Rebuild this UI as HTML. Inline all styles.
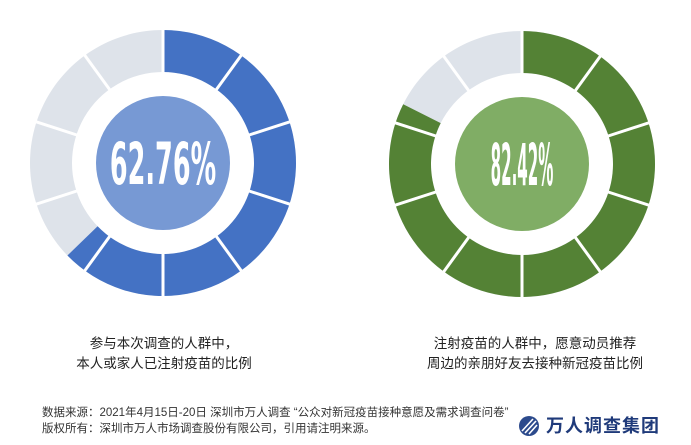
<!DOCTYPE html>
<html><head><meta charset="utf-8"><style>
body{margin:0;width:691px;height:445px;background:#fff;overflow:hidden;position:relative;font-family:"Liberation Sans","Noto Sans CJK SC",sans-serif}
.lbl{position:absolute;font-size:13.5px;color:#222;text-align:center;line-height:20px;white-space:nowrap}
.ft{position:absolute;left:42px;font-size:11.5px;color:#333;line-height:16px;white-space:nowrap}
</style></head><body>
<svg id="chart" width="691" height="445" style="position:absolute;left:0;top:0"></svg>
<div class="lbl" style="left:34px;top:334px;width:260px">参与本次调查的人群中，<br>本人或家人已注射疫苗的比例</div>
<div class="lbl" style="left:400px;top:334px;width:270px">注射疫苗的人群中，愿意动员推荐<br>周边的亲朋好友去接种新冠疫苗比例</div>
<div class="ft" style="top:405px">数据来源：2021年4月15日-20日 深圳市万人调查 “公众对新冠疫苗接种意愿及需求调查问卷”<br>版权所有：深圳市万人市场调查股份有限公司，引用请注明来源。</div>
<div style="position:absolute;left:518px;top:414px;width:160px;height:24px">
<svg width="22" height="22" style="position:absolute;left:0;top:1px"><circle cx="11" cy="11" r="10" fill="#2c4a8c"/><path d="M4 16 L15 4 M7 18 L18 6 M11 19 L19 10" stroke="#fff" stroke-width="1.6"/></svg>
<span style="position:absolute;left:28px;top:0;font-size:18px;font-weight:bold;color:#1f3a7a;letter-spacing:1px;line-height:24px">万人调查集团</span></div>
<script>
const charts=["left","right"];
const values=[62.76,82.42];
const valueLabels=["62.76%","82.42%"];
const segCount=10;
const cx=[163,522], cy=[163,164];
const fill=["#4472c4","#548235"], inner=["#7799d4","#80ad65"], bg="#dee3ea";
const labelScale=[0.44,0.26];
const R=133, r=91, rc=67;
const svg=document.getElementById('chart');
const NS="http://www.w3.org/2000/svg";
function pt(x,y,rad,deg){const a=(deg-90)*Math.PI/180;return [x+rad*Math.cos(a),y+rad*Math.sin(a)];}
function arc(x,y,a0,a1){const p1=pt(x,y,R,a0),p2=pt(x,y,R,a1),p3=pt(x,y,r,a1),p4=pt(x,y,r,a0);const l=(a1-a0)>180?1:0;
return `M${p1}A${R},${R} 0 ${l} 1 ${p2}L${p3}A${r},${r} 0 ${l} 0 ${p4}Z`;}
charts.forEach((c,i)=>{
  const fa=values[i]/100*360;
  const bgp=document.createElementNS(NS,'path');
  bgp.setAttribute('d',arc(cx[i],cy[i],0,359.99));bgp.setAttribute('fill',bg);
  
  
  svg.appendChild(bgp);
  const fp=document.createElementNS(NS,'path');
  fp.setAttribute('d',arc(cx[i],cy[i],0,fa));fp.setAttribute('fill',fill[i]);
  
  
  svg.appendChild(fp);
  for(let k=0;k<segCount;k++){const d=k*360/segCount;const a=pt(cx[i],cy[i],r-2,d),b=pt(cx[i],cy[i],R+2,d);
    const ln=document.createElementNS(NS,'line');
    ln.setAttribute('x1',a[0]);ln.setAttribute('y1',a[1]);ln.setAttribute('x2',b[0]);ln.setAttribute('y2',b[1]);
    ln.setAttribute('stroke','#fff');ln.setAttribute('stroke-width','3');
    
    
    svg.appendChild(ln);}
  const cc=document.createElementNS(NS,'circle');
  cc.setAttribute('cx',cx[i]);cc.setAttribute('cy',cy[i]);cc.setAttribute('r',rc);cc.setAttribute('fill',inner[i]);
  
  
  svg.appendChild(cc);
  const t=document.createElementNS(NS,'text');
  t.setAttribute('x',0);t.setAttribute('y',0);t.setAttribute('text-anchor','middle');
  t.setAttribute('transform',`translate(${cx[i]},${cy[i]+21}) scale(${labelScale[i]},1)`);
  t.setAttribute('font-family','"DejaVu Sans","Liberation Sans",sans-serif');t.setAttribute('font-weight','bold');
  t.setAttribute('font-size','58');t.setAttribute('fill','#fff');
  
  
  t.textContent=valueLabels[i];svg.appendChild(t);
});
</script>
</body></html>
